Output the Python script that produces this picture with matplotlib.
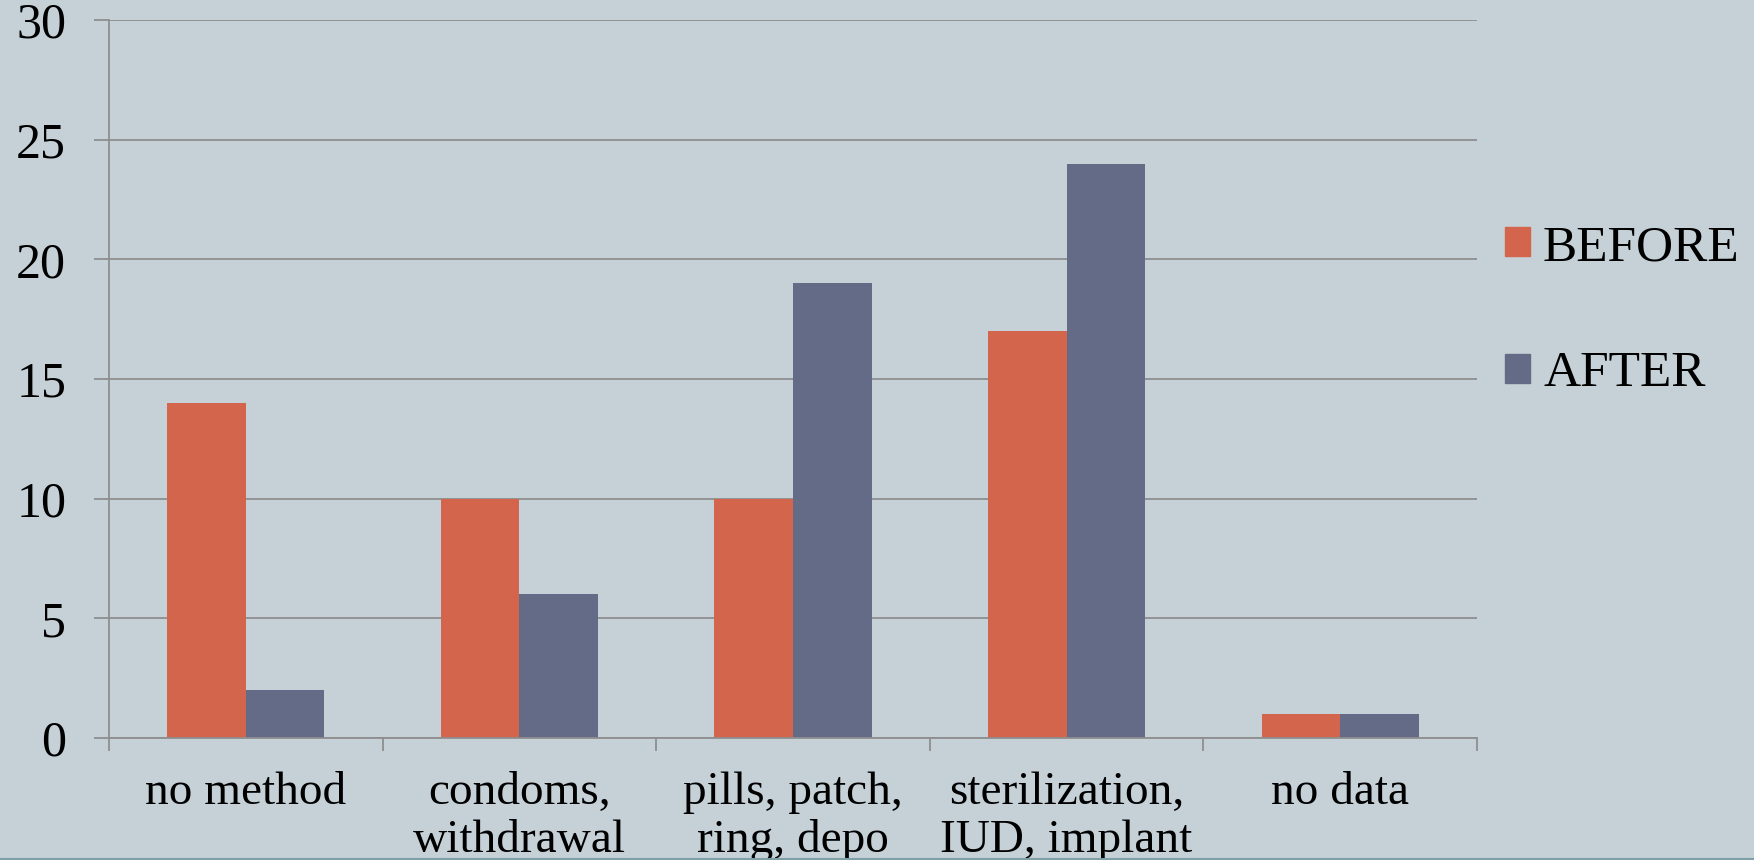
import numpy as np
import matplotlib
matplotlib.use("Agg")
import matplotlib.pyplot as plt
from matplotlib.patches import Patch
from matplotlib.lines import Line2D

categories = ["no method", "condoms,\nwithdrawal", "pills, patch,\nring, depo",
              "sterilization,\nIUD, implant", "no data"]
before = [14, 10, 10, 17, 1]
after = [2, 6, 19, 24, 1]
series_names = ["BEFORE", "AFTER"]
y_ticks = [0, 5, 10, 15, 20, 25, 30]

BG = "#c5d1d7"
ORANGE = "#d2654b"
SLATE = "#646b86"
GRID = "#8e8e8e"

plt.rcParams["font.family"] = ["Liberation Serif", "DejaVu Serif"]

W, H = 1754, 860
fig = plt.figure(figsize=(W / 100, H / 100), dpi=100, facecolor=BG)
ax = fig.add_axes([109 / W, (H - 738) / H, 1368 / W, 718 / H])
ax.set_facecolor(BG)

x = np.arange(len(categories))
bw = 0.287
ax.bar(x - bw / 2, before, width=bw, color=ORANGE, zorder=3, label=series_names[0])
ax.bar(x + bw / 2, after, width=bw, color=SLATE, zorder=3, label=series_names[1])

ax.set_xlim(-0.5, len(categories) - 0.5)
ax.set_ylim(0, 30)
ax.set_yticks(y_ticks)
ax.set_yticklabels([str(v) for v in y_ticks], fontsize=36)
ax.yaxis.grid(True, color=GRID, linewidth=1.3, zorder=0)
ax.tick_params(axis="y", length=10.8, width=1.3, color=GRID, pad=20)

ax.set_xticks(x)
ax.set_xticklabels(categories, fontsize=34, linespacing=1.17)
ax.set_xticks(np.arange(len(categories) + 1) - 0.5, minor=True)
ax.tick_params(axis="x", which="major", length=0, pad=24)
ax.tick_params(axis="x", which="minor", length=9.4, width=1.3, color=GRID)

for side in ["top", "right"]:
    ax.spines[side].set_visible(False)
for side in ["left", "bottom"]:
    ax.spines[side].set_color(GRID)
    ax.spines[side].set_linewidth(1.3)
    ax.spines[side].set_zorder(4)

handles = [Patch(color=ORANGE), Patch(color=SLATE)]
ax.legend(handles, series_names, loc="center left",
          bbox_to_anchor=(1505 / W, (H - 311) / H), bbox_transform=fig.transFigure,
          frameon=False, fontsize=37, borderpad=0, borderaxespad=0,
          handlelength=0.49, handleheight=0.49, handletextpad=0.25,
          labelspacing=1.55)

# thin rule along the bottom edge
fig.add_artist(Line2D([0, 1], [0.0012, 0.0012], transform=fig.transFigure,
                      color="#7f9fa6", linewidth=1.5))

fig.savefig("out.png", dpi=100, facecolor=BG)
